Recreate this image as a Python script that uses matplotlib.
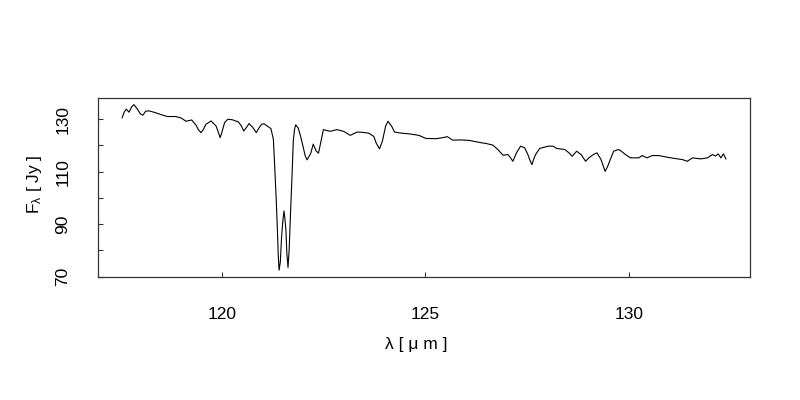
import matplotlib
matplotlib.use("Agg")
import matplotlib.pyplot as plt
from matplotlib.ticker import FixedLocator

plt.rcParams['font.family'] = ['Liberation Sans', 'DejaVu Sans']
plt.rcParams['mathtext.fontset'] = 'custom'
plt.rcParams['mathtext.rm'] = 'Liberation Sans'
plt.rcParams['mathtext.it'] = 'Liberation Sans:italic'

wavelength = [
    117.54, 117.59, 117.64, 117.71, 117.77, 117.83, 117.91, 117.99, 118.05, 118.12,
    118.20, 118.32, 118.49, 118.65, 118.86, 118.99, 119.11, 119.25, 119.36, 119.41,
    119.48, 119.54, 119.60, 119.73, 119.85, 119.91, 119.95, 119.99, 120.06, 120.14,
    120.25, 120.40, 120.47, 120.53, 120.60, 120.66, 120.75, 120.84, 120.90, 120.97,
    121.03, 121.11, 121.20,
    121.26, 121.29, 121.33, 121.36, 121.38, 121.40, 121.43, 121.46, 121.49, 121.52,
    121.54, 121.57, 121.59, 121.62, 121.65, 121.68, 121.72, 121.75, 121.78, 121.81,
    121.87, 121.93, 122.00, 122.04, 122.09, 122.18, 122.24, 122.31, 122.37, 122.43,
    122.49, 122.66, 122.82, 122.99, 123.15, 123.32, 123.45, 123.60, 123.73, 123.79,
    123.87, 123.94, 124.02, 124.08, 124.17, 124.24, 124.39, 124.64, 124.84, 125.01,
    125.26, 125.42, 125.54, 125.67, 125.87, 126.08, 126.37, 126.49, 126.66, 126.78,
    126.91, 127.03, 127.09, 127.15, 127.24, 127.34, 127.44, 127.52, 127.57, 127.62,
    127.66, 127.71, 127.81, 128.02, 128.14, 128.23, 128.43, 128.53, 128.61, 128.72,
    128.83, 128.94, 129.02, 129.13, 129.22, 129.32, 129.37, 129.42, 129.48, 129.53,
    129.63, 129.75, 129.82, 129.92, 130.04, 130.25, 130.33, 130.45, 130.58, 130.74,
    130.95, 131.15, 131.32, 131.44, 131.57, 131.77, 131.94, 132.06, 132.14, 132.20,
    132.27, 132.33, 132.39,
]
flux = [
    130.58, 132.69, 133.85, 132.69, 134.62, 135.58, 133.96, 132.04, 131.54, 133.08,
    133.19, 132.69, 131.81, 131.04, 131.04, 130.50, 129.23, 129.73, 127.69, 126.15,
    124.88, 126.15, 128.08, 129.35, 127.42, 124.88, 122.96, 124.88, 128.73, 130.00,
    129.81, 128.96, 127.50, 125.50, 126.92, 128.35, 126.92, 124.88, 126.54, 128.08,
    128.27, 127.42, 126.42,
    122.31, 112.81, 99.23, 87.31, 78.08, 72.42, 75.38, 84.62, 90.77, 95.00,
    92.69, 87.31, 79.23, 73.46, 80.77, 93.58, 108.85, 121.81, 126.15, 127.88,
    126.65, 123.46, 118.96, 116.15, 114.50, 117.04, 120.50, 117.96, 117.04, 121.54,
    126.04, 125.38, 126.04, 125.38, 123.85, 125.12, 125.00, 124.73, 123.46, 120.88,
    118.73, 121.54, 127.31, 129.23, 127.31, 125.12, 124.73, 124.35, 123.85, 122.69,
    122.58, 122.96, 123.35, 122.04, 122.12, 121.92, 121.04, 120.77, 120.12, 118.46,
    116.27, 116.54, 115.38, 113.96, 117.19, 119.73, 119.12, 116.54, 114.42, 112.69,
    114.62, 116.54, 118.85, 119.73, 119.73, 118.85, 118.46, 117.19, 115.88, 117.81,
    116.54, 113.96, 115.27, 116.54, 117.19, 114.62, 112.31, 110.12, 111.92, 113.96,
    117.81, 118.46, 117.81, 116.54, 115.27, 115.27, 116.15, 115.27, 116.15, 116.15,
    115.50, 115.00, 114.62, 113.96, 115.27, 114.88, 115.27, 116.54, 115.96, 116.81,
    115.27, 116.81, 114.88,
]

x_ticks = [120, 125, 130]
y_ticks = [70, 80, 90, 100, 110, 120, 130]
y_tick_labels = ["70", "", "90", "", "110", "", "130"]

fig = plt.figure(figsize=(8, 4), dpi=100)
ax = fig.add_axes([0.1225, 0.308, 0.815, 0.447])

ax.plot(wavelength, flux, color='black', linewidth=0.8)
ax.margins(x=0.04, y=0.04)

ax.xaxis.set_major_locator(FixedLocator(x_ticks))
ax.yaxis.set_major_locator(FixedLocator(y_ticks))
ax.set_yticklabels(y_tick_labels, rotation=90, va='center')
ax.tick_params(axis='both', direction='in', length=3.5, width=0.8,
               labelsize=12.5, color='#333333')
ax.tick_params(axis='x', pad=22)
ax.tick_params(axis='y', pad=20)

for s in ax.spines.values():
    s.set_linewidth(0.9)
    s.set_color('#333333')

fig.text(0.52, 1 - 344 / 400, "λ [ μ m ]", ha='center', va='center', fontsize=12.5)
fig.text(34 / 800, 1 - 184 / 400, r"F$_{\mathrm{\lambda}}$ [ Jy ]", ha='center',
         va='center', rotation=90, fontsize=12.5)

fig.savefig("out.png", dpi=100)
